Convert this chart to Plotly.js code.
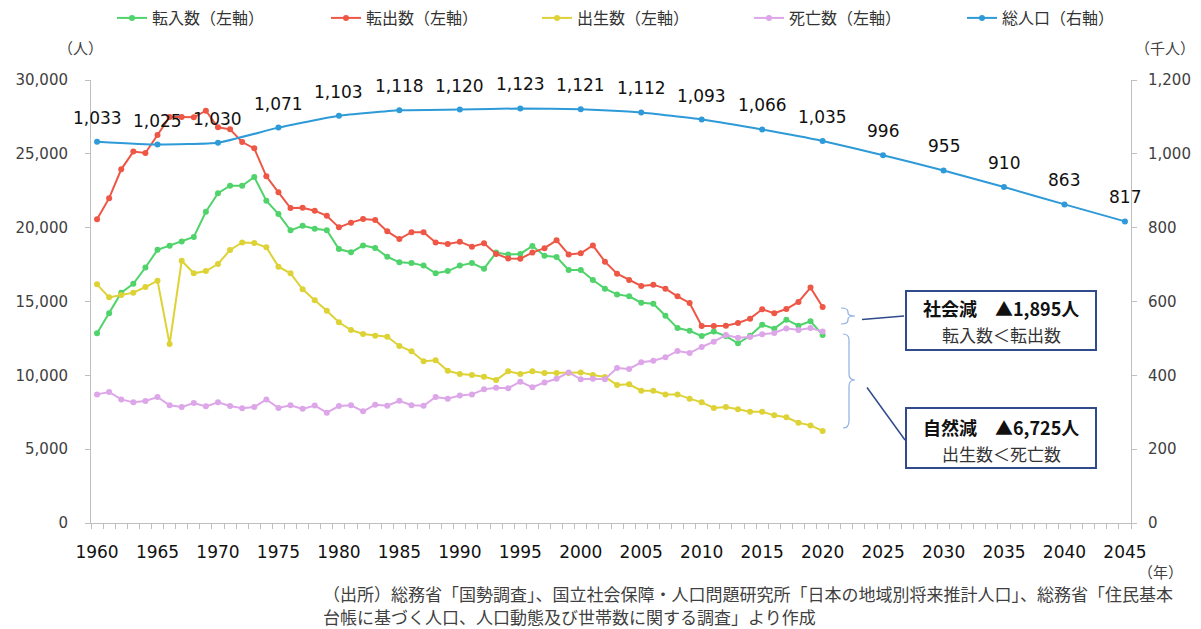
<!DOCTYPE html>
<html>
<head>
<meta charset="utf-8">
<script src="https://cdn.plot.ly/plotly-3.0.1.min.js"></script>
<style>html,body{margin:0;padding:0;background:#fff;}#chart{width:1201px;height:629px;}</style>
</head>
<body>
<div id="chart"></div>
<script>
// ---- data ----
const years = [];
for (let y = 1960; y <= 2020; y++) years.push(y);

const tennyu = [12850,14200,15600,16200,17300,18500,18780,19070,19370,21080,
  22330,22840,22840,23430,21830,20920,19820,20130,19930,19830,
  18550,18330,18800,18620,18030,17650,17600,17430,16910,17060,
  17430,17600,17220,18310,18190,18220,18760,18100,18010,17130,
  17130,16460,15870,15480,15350,14920,14850,14040,13200,13020,
  12660,12960,12660,12170,12680,13430,13160,13770,13360,13660,12735];

const tenshutsu = [20570,22000,23950,25150,25060,26270,27500,27500,27470,27920,
  26800,26660,25800,25370,23480,22390,21330,21350,21150,20800,
  20020,20340,20590,20520,19750,19230,19690,19690,19000,18890,
  19050,18710,18940,18220,17920,17900,18310,18610,19140,18190,
  18260,18800,17700,16880,16460,16050,16140,15870,15350,14900,
  13340,13340,13360,13540,13840,14470,14200,14490,14970,15940,14630];

const shussei = [16160,15280,15440,15600,15980,16410,12120,17760,16910,17060,
  17540,18490,19000,18960,18670,17360,16910,15830,15080,14380,
  13590,13070,12800,12680,12610,11990,11630,10950,11020,10310,
  10090,10020,9910,9680,10270,10090,10270,10150,10150,10160,
  10200,10020,9890,9350,9390,8960,8960,8710,8710,8420,
  8170,7790,7860,7700,7540,7540,7290,7160,6790,6610,6235];

const shibou = [8710,8870,8370,8170,8260,8530,7970,7860,8130,7900,
  8170,7920,7770,7860,8370,7790,7970,7730,7950,7470,
  7920,7970,7560,8010,7940,8280,7970,7940,8530,8420,
  8640,8710,9050,9160,9120,9570,9190,9520,9770,10200,
  9730,9770,9730,10500,10430,10880,10990,11220,11650,11510,
  11920,12280,12730,12550,12600,12780,12870,13180,13070,13200,12960];

const popYears = [1960,1965,1970,1975,1980,1985,1990,1995,2000,2005,2010,2015,2020,2025,2030,2035,2040,2045];
const popValues = [1033,1025,1030,1071,1103,1118,1120,1123,1121,1112,1093,1066,1035,996,955,910,863,817];

const seriesNames = ['転入数（左軸）','転出数（左軸）','出生数（左軸）','死亡数（左軸）','総人口（右軸）'];
const tickYears = [1960,1965,1970,1975,1980,1985,1990,1995,2000,2005,2010,2015,2020,2025,2030,2035,2040,2045];

// ---- styles ----
const colors = ['#4fd36a','#ee5646','#ddd236','#dca6e8','#2e9ad8'];
const numFont = 'DejaVu Sans, Verdana, sans-serif';
const jpFont = '"Noto Sans CJK JP", sans-serif';
const legendIds = ['legend','legend2','legend3','legend4','legend5'];
const legendLeftPx = [112, 326, 537, 749, 962];

function lineTrace(y, i) {
  return {
    x: years, y: y, name: seriesNames[i], type: 'scatter', mode: 'lines+markers', legend: legendIds[i],
    line: {color: colors[i], width: 2}, marker: {color: colors[i], size: 6}
  };
}

const traces = [
  lineTrace(tennyu, 0),
  lineTrace(tenshutsu, 1),
  lineTrace(shussei, 2),
  lineTrace(shibou, 3),
  {
    x: popYears, y: popValues, name: seriesNames[4], type: 'scatter', mode: 'lines+markers',
    legend: legendIds[4],
    yaxis: 'y2', line: {color: colors[4], width: 2, shape: 'spline', smoothing: 0.4},
    marker: {color: colors[4], size: 6}
  }
];

// plot area in pixels
const L = 91, R = 1131, T = 80, B = 523;
const px = x => (x - L) / (R - L);
const py = y => (B - y) / (B - T);
const P = (x, y) => px(x).toFixed(5) + ',' + py(y).toFixed(5);

const annotations = popYears.map((yr, i) => ({
  x: yr, y: popValues[i], xref: 'x', yref: 'y2', yshift: 24, showarrow: false,
  xanchor: 'center', yanchor: 'middle',
  text: popValues[i].toLocaleString('en-US'), font: {family: numFont, size: 17, color: '#111'}
}));

function note(x, y, text, size, color, xanchor) {
  return {xref: 'paper', yref: 'paper', x: px(x), y: py(y), text: text, showarrow: false,
          xanchor: xanchor || 'center', yanchor: 'middle',
          font: {family: jpFont, size: size, color: color}};
}

annotations.push(
  note(80, 48, '（人）', 15, '#404040'),
  note(1165, 48, '（千人）', 15, '#404040'),
  note(1160, 571, '（年）', 15, '#404040'),
  note(321, 593, '（出所）総務省「国勢調査」、国立社会保障・人口問題研究所「日本の地域別将来推計人口」、総務省「住民基本', 17, '#404040', 'left'),
  note(321, 616, '台帳に基づく人口、人口動態及び世帯数に関する調査」より作成', 17, '#404040', 'left'),
  note(1001, 308, '<b>社会減　▲1,895人</b>', 18, '#111'),
  note(1001, 334, '転入数＜転出数', 17, '#333'),
  note(1001, 427, '<b>自然減　▲6,725人</b>', 18, '#111'),
  note(1001, 453, '出生数＜死亡数', 17, '#333')
);

const boxColor = '#2f4b8c';
const braceColor = '#8fb0e0';
const shapes = [
  {type: 'rect', xref: 'paper', yref: 'paper', x0: px(906), x1: px(1096), y0: py(291), y1: py(350),
   line: {color: boxColor, width: 2}, fillcolor: 'rgba(255,255,255,0)'},
  {type: 'rect', xref: 'paper', yref: 'paper', x0: px(906), x1: px(1096), y0: py(408), y1: py(468),
   line: {color: boxColor, width: 2}, fillcolor: 'rgba(255,255,255,0)'},
  {type: 'line', xref: 'paper', yref: 'paper', x0: px(862), y0: py(319.5), x1: px(904), y1: py(316),
   line: {color: boxColor, width: 1.5}},
  {type: 'line', xref: 'paper', yref: 'paper', x0: px(867), y0: py(387.5), x1: px(905), y1: py(440),
   line: {color: boxColor, width: 1.5}},
  {type: 'path', xref: 'paper', yref: 'paper', line: {color: braceColor, width: 1.2},
   path: 'M' + P(841,308) + ' Q' + P(848,308) + ' ' + P(848,312) + ' L' + P(848,313) +
         ' Q' + P(848,316) + ' ' + P(855,316) + ' Q' + P(848,316) + ' ' + P(848,319) +
         ' L' + P(848,320) + ' Q' + P(848,324) + ' ' + P(841,324)},
  {type: 'path', xref: 'paper', yref: 'paper', line: {color: braceColor, width: 1.2},
   path: 'M' + P(843,334) + ' Q' + P(849,334) + ' ' + P(849,340) + ' L' + P(849,374) +
         ' Q' + P(849,380) + ' ' + P(855,380) + ' Q' + P(849,380) + ' ' + P(849,386) +
         ' L' + P(849,421) + ' Q' + P(849,428) + ' ' + P(843,428)}
];

const layout = {
  width: 1201, height: 629,
  margin: {l: L, r: 1201 - R, t: T, b: 629 - B, autoexpand: false},
  paper_bgcolor: '#fff', plot_bgcolor: '#fff',
  font: {family: numFont, color: '#404040'},
  showlegend: true,
  xaxis: {
    range: [1959.5, 2045.5], tickvals: tickYears, ticktext: tickYears.map(String),
    ticks: '', showgrid: false, zeroline: false, showline: true, linecolor: '#bfbfbf', linewidth: 1,
    tickfont: {family: numFont, size: 17, color: '#111'}, ticklabelstandoff: 14,
    minor: {tick0: 1959.5, dtick: 1, ticks: 'outside', ticklen: 5, tickcolor: '#bfbfbf', showgrid: false}
  },
  yaxis: {
    range: [0, 30000], dtick: 5000, tickformat: ',', showgrid: false, zeroline: false,
    showline: true, linecolor: '#bfbfbf', linewidth: 1, ticks: 'outside', ticklen: 5, tickcolor: '#bfbfbf',
    tickfont: {family: numFont, size: 15, color: '#404040'}, ticklabelstandoff: 14
  },
  yaxis2: {
    range: [0, 1200], dtick: 200, tickformat: ',', overlaying: 'y', side: 'right',
    showgrid: false, zeroline: false, showline: true, linecolor: '#bfbfbf', linewidth: 1,
    ticks: 'outside', ticklen: 5, tickcolor: '#bfbfbf',
    tickfont: {family: numFont, size: 15, color: '#404040'}, ticklabelstandoff: 8
  },
  annotations: annotations,
  shapes: shapes
};

legendIds.forEach((id, i) => {
  layout[id] = {
    orientation: 'h', xref: 'container', yref: 'container',
    x: legendLeftPx[i] / 1201, y: 1 - 18 / 629, xanchor: 'left', yanchor: 'middle',
    font: {family: jpFont, size: 16, color: '#333'}, bgcolor: 'rgba(0,0,0,0)'
  };
});

Plotly.newPlot('chart', traces, layout, {displayModeBar: false, staticPlot: true});
</script>
</body>
</html>
